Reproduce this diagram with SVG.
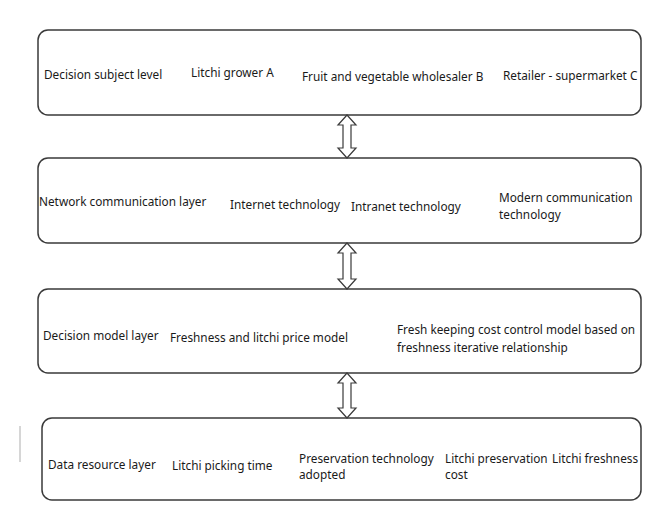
<svg xmlns="http://www.w3.org/2000/svg" width="655" height="506" viewBox="0 0 655 506">
<defs>
<style>
.box{fill:#fff;stroke:#3a3a3a;stroke-width:1.5}
.arr{fill:#fff;stroke:#3a3a3a;stroke-width:1.2;stroke-linejoin:miter}
text{font-family:"Noto Sans","Open Sans","Liberation Sans",sans-serif;font-size:11.8px;fill:#1a1a1a}
</style>
</defs>
<rect width="655" height="506" fill="#fff"/>
<line x1="20" y1="426" x2="20" y2="462" stroke="#c8c8c8" stroke-width="1.5"/>
<g id="layer1">
<rect class="box" x="38" y="30" width="603" height="85" rx="10"/>
<text x="44" y="79">Decision subject level</text>
<text x="191" y="77">Litchi grower A</text>
<text x="302" y="81">Fruit and vegetable wholesaler B</text>
<text x="503" y="80">Retailer - supermarket C</text>
</g>
<g id="layer2">
<rect class="box" x="38" y="158" width="603" height="85" rx="10"/>
<text x="39" y="206">Network communication layer</text>
<text x="230" y="209">Internet technology</text>
<text x="351" y="211">Intranet technology</text>
<text x="499" y="202">Modern communication</text>
<text x="499" y="219">technology</text>
</g>
<g id="layer3">
<rect class="box" x="38" y="289" width="603" height="84" rx="10"/>
<text x="43" y="340">Decision model layer</text>
<text x="170" y="342">Freshness and litchi price model</text>
<text x="397" y="334">Fresh keeping cost control model based on</text>
<text x="397" y="352">freshness iterative relationship</text>
</g>
<g id="layer4">
<rect class="box" x="42" y="418" width="599" height="82" rx="10"/>
<text x="48" y="469">Data resource layer</text>
<text x="172" y="470">Litchi picking time</text>
<text x="299" y="463">Preservation technology</text>
<text x="299" y="479">adopted</text>
<text x="445" y="463">Litchi preservation</text>
<text x="445" y="479">cost</text>
<text x="552" y="463">Litchi freshness</text>
</g>
<g id="connectors">
<polygon class="arr" points="347,115 356,125 351,125 351,148 356,148 347,158 338,148 343,148 343,125 338,125"/>
<polygon class="arr" points="347,243 356,253 351,253 351,279 356,279 347,289 338,279 343,279 343,253 338,253"/>
<polygon class="arr" points="347,373 356,383 351,383 351,408 356,408 347,418 338,408 343,408 343,383 338,383"/>
</g>
</svg>
